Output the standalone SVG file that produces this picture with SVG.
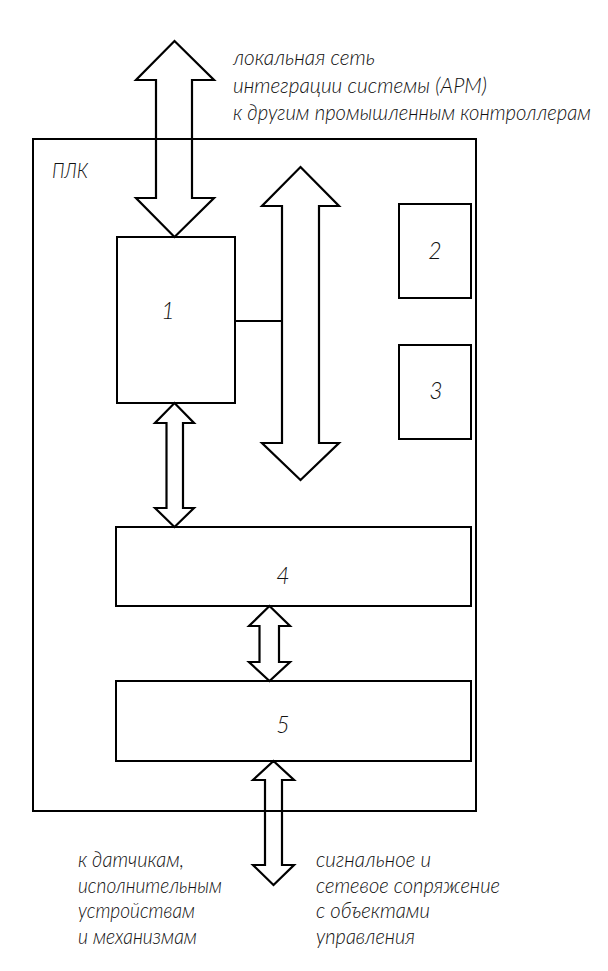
<svg xmlns="http://www.w3.org/2000/svg" width="608" height="971" viewBox="0 0 608 971">
<style>
.b{fill:none;stroke:#000;stroke-width:2}
.a{fill:none;stroke:#000;stroke-width:2.2;stroke-linejoin:miter}
.t{font-family:Lato,"Liberation Sans","DejaVu Sans",sans-serif;font-style:italic;font-weight:300;font-size:21px;fill:#111}
.n{font-family:Lato,"Liberation Sans","DejaVu Sans",sans-serif;font-style:italic;font-weight:300;font-size:23px;fill:#111;text-anchor:middle}
</style>
<rect width="608" height="971" fill="#fff"/>
<g id="plc">
<rect class="b" x="33" y="139" width="443" height="672"/>
<text class="t" x="52" y="178" textLength="36" lengthAdjust="spacingAndGlyphs">ПЛК</text>
</g>
<g id="node1">
<rect class="b" x="117" y="237" width="118" height="166"/>
<text class="n" x="168" y="319">1</text>
</g>
<g id="node2">
<rect class="b" x="399" y="204" width="72" height="94"/>
<text class="n" x="435" y="259">2</text>
</g>
<g id="node3">
<rect class="b" x="399" y="345" width="72" height="94"/>
<text class="n" x="436" y="399">3</text>
</g>
<g id="node4">
<rect class="b" x="116" y="527" width="355" height="79"/>
<text class="n" x="283" y="584">4</text>
</g>
<g id="node5">
<rect class="b" x="116" y="681" width="355" height="80"/>
<text class="n" x="283" y="733">5</text>
</g>
<g id="connectors">
<polygon class="a" points="174.5,41 214,80 192,80 192,198 214,198 174.5,237 136,198 156,198 156,80 136,80"/>
<polygon class="a" points="300.5,167 339,206 319,206 319,443 339,443 300.5,480 262,443 282,443 282,206 262,206"/>
<line class="b" x1="235" y1="321" x2="282" y2="321"/>
<polygon class="a" points="174.5,403 194,423 183,423 183,508 194,508 174.5,527 155,508 166.5,508 166.5,423 155,423"/>
<polygon class="a" points="269.5,606 290,626 279,626 279,662 290,662 269.5,681 249,662 259.5,662 259.5,626 249,626"/>
<polygon class="a" points="273.5,761 294,780 282,780 282,865 294,865 273.5,885 253,865 265,865 265,780 253,780"/>
</g>
<g id="labels">
<text class="t" x="233" y="65" textLength="142" lengthAdjust="spacingAndGlyphs">локальная сеть</text>
<text class="t" x="233" y="93" textLength="254" lengthAdjust="spacingAndGlyphs">интеграции системы (АРМ)</text>
<text class="t" x="233" y="120" textLength="358" lengthAdjust="spacingAndGlyphs">к другим промышленным контроллерам</text>
<text class="t" x="78" y="867" textLength="106" lengthAdjust="spacingAndGlyphs">к датчикам,</text>
<text class="t" x="78" y="893" textLength="144" lengthAdjust="spacingAndGlyphs">исполнительным</text>
<text class="t" x="78" y="918" textLength="117" lengthAdjust="spacingAndGlyphs">устройствам</text>
<text class="t" x="78" y="944" textLength="119" lengthAdjust="spacingAndGlyphs">и механизмам</text>
<text class="t" x="316" y="867" textLength="115" lengthAdjust="spacingAndGlyphs">сигнальное и</text>
<text class="t" x="316" y="893" textLength="184" lengthAdjust="spacingAndGlyphs">сетевое сопряжение</text>
<text class="t" x="316" y="918" textLength="114" lengthAdjust="spacingAndGlyphs">с объектами</text>
<text class="t" x="316" y="944" textLength="99" lengthAdjust="spacingAndGlyphs">управления</text>
</g>
</svg>
